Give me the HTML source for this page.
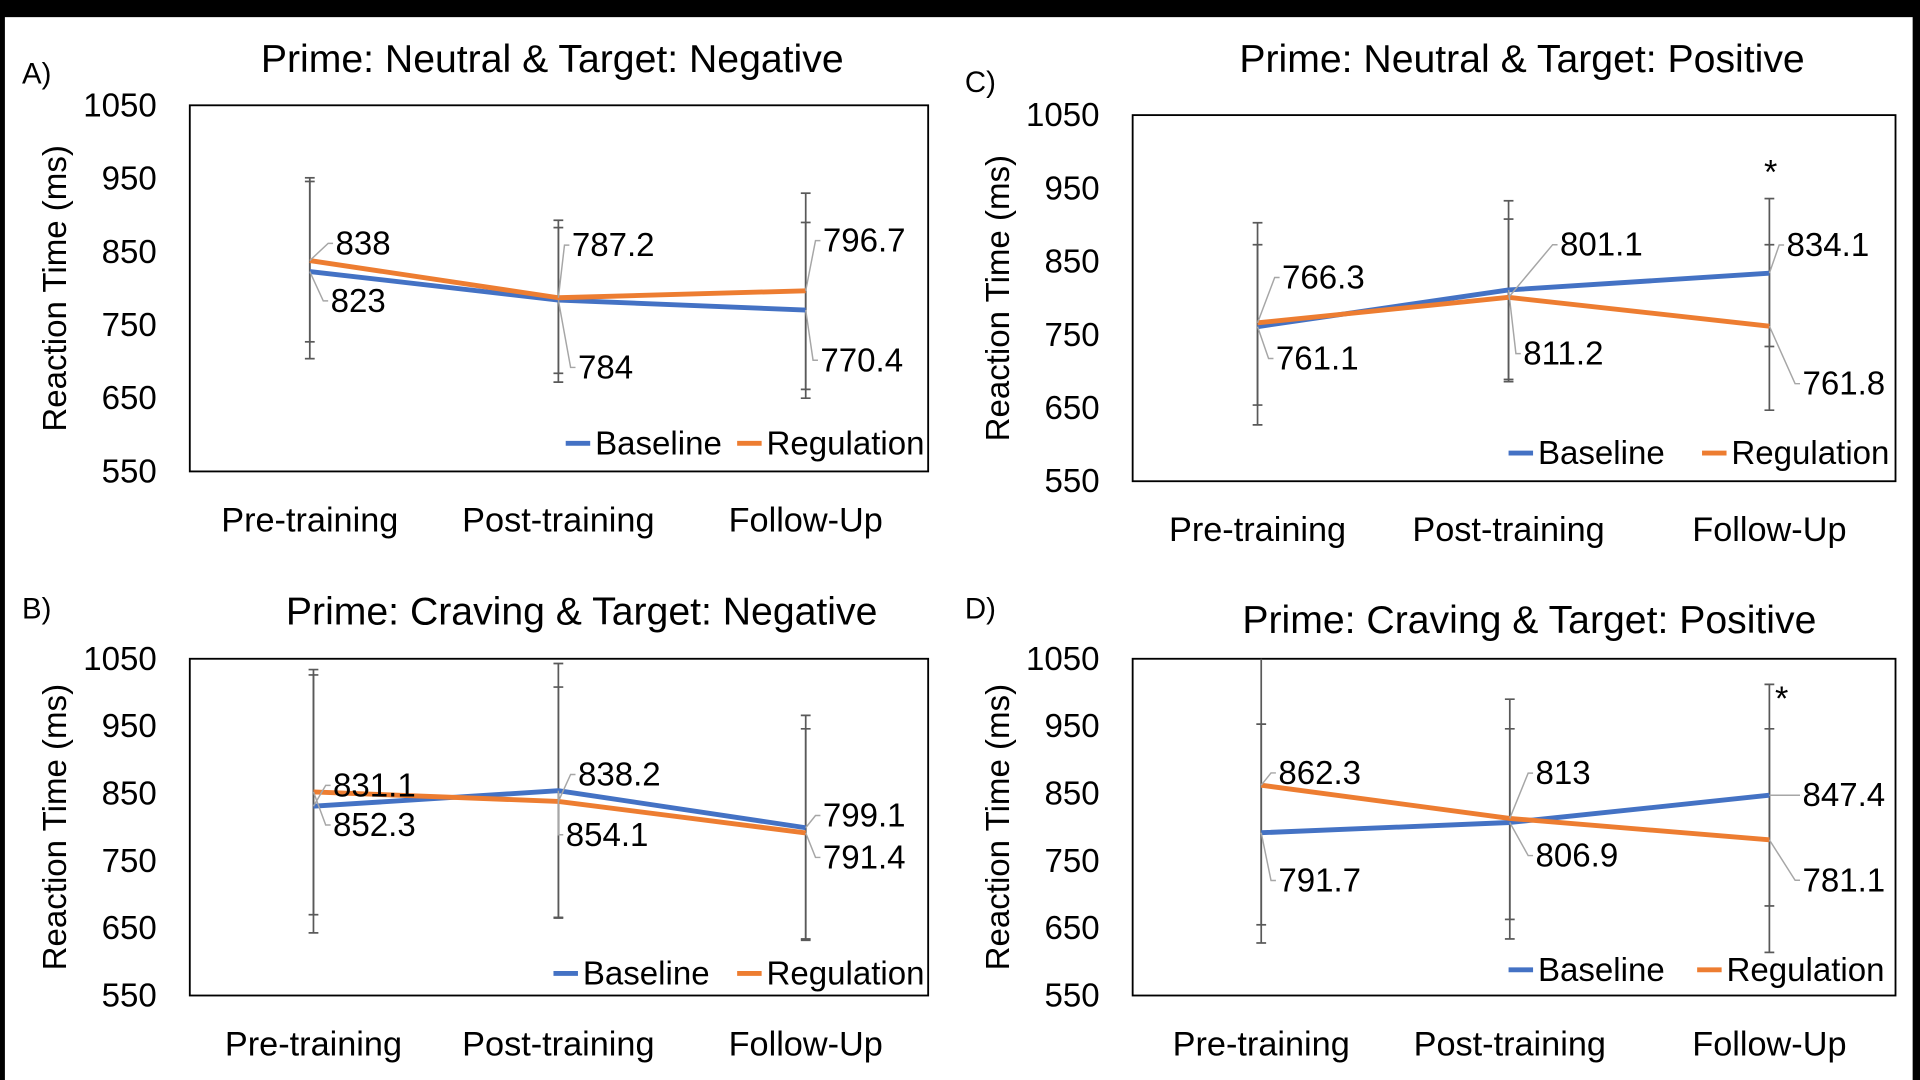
<!DOCTYPE html>
<html><head><meta charset="utf-8"><style>
html,body{margin:0;padding:0;background:#000;}
svg{display:block;}
text{font-family:"Liberation Sans",sans-serif;fill:#000;}
</style></head><body>
<svg id="root" width="1920" height="1080" viewBox="0 0 1568 882" xmlns="http://www.w3.org/2000/svg">
<rect x="4" y="14" width="1558" height="868" fill="#fff"/>
</svg>
<script>
const categories = ["Pre-training","Post-training","Follow-Up"];
const yTicks = [550,650,750,850,950,1050];
const seriesNames = ["Baseline","Regulation"];

const aBase = [823,784,770.4];
const aReg = [838,787.2,796.7];
const aBaseHi = [946,883,890], aBaseLo = [704,672,650];
const aRegHi = [951,893,930], aRegLo = [727,684,662];

const bBase = [831.1,854.1,799.1];
const bReg = [852.3,838.2,791.4];
const bBaseHi = [1034,1043,966], bBaseLo = [643,665,632];
const bRegHi = [1026,1008,946], bRegLo = [670,666,634];

const cBase = [761.1,811.2,834.1];
const cReg = [766.3,801.1,761.8];
const cBaseHi = [873,908,936], cBaseLo = [627,686,647];
const cRegHi = [903,933,873], cRegLo = [654,689,734];

const dBase = [791.7,806.9,847.4];
const dReg = [862.3,813,781.1];
const dBaseHi = [1080,990,1012], dBaseLo = [628,634,614];
const dRegHi = [953,946,946], dRegLo = [655,663,683];

const NS="http://www.w3.org/2000/svg";
const root=document.getElementById('root');
function mk(tag,attrs,parent){const e=document.createElementNS(NS,tag);for(const k in attrs)e.setAttribute(k,attrs[k]);(parent||root).appendChild(e);return e;}

const panels=[
 {id:"a",letter:"A)",lx:18,ly:68,title:"Prime: Neutral & Target: Negative",tx:451,ty:48,box:[155,86,758,385],cx:[253,456,658],caty:425,ylx:128,atx:45,
  base:aBase,reg:aReg,bh:aBaseHi,bl:aBaseLo,rh:aRegHi,rl:aRegLo,
  bOff:[[15,24],[14,55],[10,41]],rOff:[[19,-14],[9,-43],[12,-41]],leg:[462,602,362],star:null},
 {id:"c",letter:"C)",lx:788,ly:75,title:"Prime: Neutral & Target: Positive",tx:1243,ty:48,box:[925,94,1548,393],cx:[1027,1232,1445],caty:433,ylx:898,atx:815,
  base:cBase,reg:cReg,bh:cBaseHi,bl:cBaseLo,rh:cRegHi,rl:cRegLo,
  bOff:[[13,26],[10,52],[12,-23]],rOff:[[18,-37],[40,-43],[25,47]],leg:[1232,1390,370],star:[1446,136]},
 {id:"b",letter:"B)",lx:18,ly:505,title:"Prime: Craving & Target: Negative",tx:475,ty:499,box:[155,538,758,813],cx:[256,456,658],caty:853,ylx:128,atx:45,
  base:bBase,reg:bReg,bh:bBaseHi,bl:bBaseLo,rh:bRegHi,rl:bRegLo,
  bOff:[[14,-17],[4,36],[12,-10]],rOff:[[14,27],[14,-22],[12,20]],leg:[452,602,795],star:null},
 {id:"d",letter:"D)",lx:788,ly:505,title:"Prime: Craving & Target: Positive",tx:1249,ty:506,box:[925,538,1548,813],cx:[1030,1233,1445],caty:853,ylx:898,atx:815,
  base:dBase,reg:dReg,bh:dBaseHi,bl:dBaseLo,rh:dRegHi,rl:dRegLo,
  bOff:[[12,39],[19,27],[25,0]],rOff:[[12,-10],[19,-37],[25,33]],leg:[1232,1386,792],star:[1455,566]}
];
const BLUE="#4472C4",ORANGE="#ED7D31";

panels.forEach(p=>{
  const g=mk('g',{});
  
  
  const [x0,y0,x1,y1]=p.box;
  const yS=v=>y1-(v-550)/(1050-550)*(y1-y0);
  const clipId='clip-'+p.id;
  const cp=mk('clipPath',{id:clipId},g);mk('rect',{x:x0,y:y0,width:x1-x0,height:y1-y0},cp);
  let t=mk('text',{x:p.lx,y:p.ly,'font-size':24},g);t.textContent=p.letter;
  
  t=mk('text',{x:p.tx,y:p.ty+11,'font-size':32,'text-anchor':'middle'},g);t.textContent=p.title;
  
  const box=mk('rect',{x:x0,y:y0,width:x1-x0,height:y1-y0,fill:'none',stroke:'#000','stroke-width':1.5},g);
  
  yTicks.forEach(v=>{const e=mk('text',{x:p.ylx,y:yS(v)+9,'font-size':27,'text-anchor':'end'},g);e.textContent=v;
    });
  const my=(y0+y1)/2;
  t=mk('text',{x:p.atx+9,y:my,'font-size':27,'text-anchor':'middle',transform:`rotate(-90 ${p.atx+9} ${my})`},g);t.textContent="Reaction Time (ms)";
  
  categories.forEach((c,i)=>{const e=mk('text',{x:p.cx[i],y:p.caty+9,'font-size':28,'text-anchor':'middle'},g);e.textContent=c;
    });
  const pg=mk('g',{'clip-path':`url(#${clipId})`},g);
  [[p.bh,p.bl],[p.rh,p.rl]].forEach(([hi,lo],si)=>{
    hi.forEach((h,i)=>{const x=p.cx[i];
      const l=mk('line',{x1:x,x2:x,y1:yS(h),y2:yS(lo[i]),stroke:'#595959','stroke-width':1.4},pg);
      
      [h,lo[i]].forEach(v=>{const c=mk('line',{x1:x-4,x2:x+4,y1:yS(v),y2:yS(v),stroke:'#595959','stroke-width':1.4},pg);
        });
    });
  });
  [[p.base,BLUE,'baseline-line'],[p.reg,ORANGE,'regulation-line']].forEach(([d,col,nm])=>{
    const pts=d.map((v,i)=>p.cx[i]+','+yS(v)).join(' ');
    const pl=mk('polyline',{points:pts,fill:'none',stroke:col,'stroke-width':4,'stroke-linejoin':'round'},pg);
    
  });
  [[p.base,p.bOff],[p.reg,p.rOff]].forEach(([d,off])=>{
    d.forEach((v,i)=>{const x=p.cx[i],y=yS(v),lx=x+off[i][0],ly=y+off[i][1];
      const ll=mk('polyline',{points:`${x},${y} ${lx-4},${ly} ${lx},${ly}`,fill:'none',stroke:'#A6A6A6','stroke-width':1.2},g);
      
      const e=mk('text',{x:lx+2,y:ly+9,'font-size':27},g);e.textContent=v;
      });
  });
  const [bx,ox,ly]=p.leg;
  [[bx,BLUE,seriesNames[0]],[ox,ORANGE,seriesNames[1]]].forEach(([x,col,nm])=>{
    const s=mk('line',{x1:x,x2:x+20,y1:ly,y2:ly,stroke:col,'stroke-width':4},g);
    
    const e=mk('text',{x:x+24,y:ly+9,'font-size':27},g);e.textContent=nm;
    
  });
  if(p.star){const s=mk('text',{x:p.star[0],y:p.star[1]+14,'font-size':28,'text-anchor':'middle'},g);s.textContent="*";
    }
});
</script>
</body></html>
